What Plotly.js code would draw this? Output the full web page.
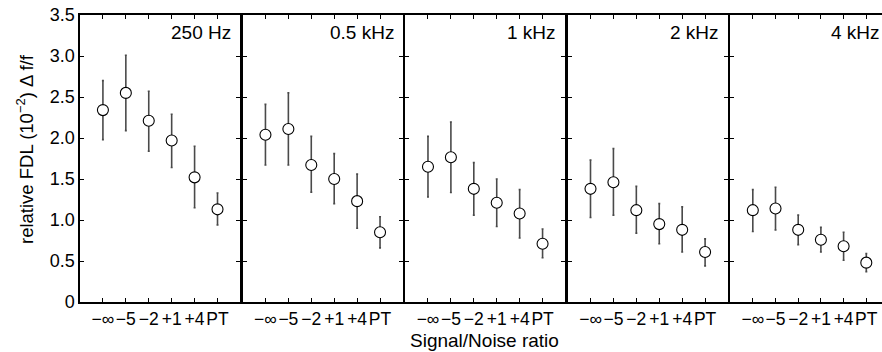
<!DOCTYPE html>
<html>
<head>
<meta charset="utf-8">
<script src="https://cdn.plot.ly/plotly-3.0.1.min.js"></script>
<style>
html, body { margin: 0; padding: 0; overflow: hidden; background: #fff; }
#chart { width: 892px; height: 352px; }
</style>
</head>
<body>
<div id="chart"></div>
<script>
// ---- data ----
const snrLabels = ['\u2212\u221e', '\u22125', '\u22122', '+1', '+4', 'PT'];
const panelNames = ['250 Hz', '0.5 kHz', '1 kHz', '2 kHz', '4 kHz'];

const fdl250  = [2.34, 2.55, 2.21, 1.97, 1.52, 1.13];
const plus250 = [0.36, 0.46, 0.36, 0.32, 0.38, 0.20];
const minus250= [0.36, 0.46, 0.37, 0.33, 0.37, 0.19];

const fdl500  = [2.04, 2.11, 1.67, 1.50, 1.23, 0.85];
const plus500 = [0.37, 0.44, 0.35, 0.31, 0.33, 0.19];
const minus500= [0.37, 0.44, 0.33, 0.30, 0.33, 0.19];

const fdl1k   = [1.65, 1.765, 1.38, 1.21, 1.08, 0.71];
const plus1k  = [0.37, 0.43, 0.32, 0.29, 0.29, 0.18];
const minus1k = [0.37, 0.43, 0.32, 0.29, 0.30, 0.17];

const fdl2k   = [1.38, 1.46, 1.12, 0.95, 0.88, 0.61];
const plus2k  = [0.35, 0.41, 0.29, 0.25, 0.28, 0.16];
const minus2k = [0.35, 0.40, 0.28, 0.24, 0.27, 0.17];

const fdl4k   = [1.12, 1.14, 0.88, 0.76, 0.68, 0.48];
const plus4k  = [0.25, 0.26, 0.18, 0.15, 0.17, 0.11];
const minus4k = [0.26, 0.26, 0.18, 0.15, 0.17, 0.11];

const yTickVals = [0, 0.5, 1, 1.5, 2, 2.5, 3, 3.5];
const yTickText = ['0', '0.5', '1.0', '1.5', '2.0', '2.5', '3.0', '3.5'];

const yTitle = 'relative FDL (10<sup>\u22122</sup>) \u0394 f/f';
const xTitle = 'Signal/Noise ratio';

// ---- build ----
const series = [
  [fdl250, plus250, minus250],
  [fdl500, plus500, minus500],
  [fdl1k, plus1k, minus1k],
  [fdl2k, plus2k, minus2k],
  [fdl4k, plus4k, minus4k]
];

const FONT = 'Liberation Sans, Arial, Helvetica, sans-serif';
const traces = [];
const layout = {
  width: 892, height: 352,
  margin: {l: 80, r: 3, t: 15, b: 50},
  paper_bgcolor: '#fff', plot_bgcolor: '#fff',
  showlegend: false,
  font: {family: FONT, color: '#000', size: 16},
  annotations: []
};

const pw = 0.1983, gap = 0.0026;
series.forEach((s, i) => {
  const n = i + 1;
  const xa = n === 1 ? 'x' : 'x' + n;
  const ya = n === 1 ? 'y' : 'y' + n;
  traces.push({
    type: 'scatter', mode: 'markers',
    x: snrLabels, y: s[0],
    xaxis: xa, yaxis: ya,
    marker: {symbol: 'circle', size: 11, color: '#fff', line: {color: '#000', width: 1.1}},
    error_y: {type: 'data', symmetric: false, array: s[1], arrayminus: s[2],
              color: '#4a4a4a', thickness: 1.6, width: 1}
  });
  const d0 = i * (pw + gap);
  const d1 = Math.min(1, d0 + pw);
  layout[n === 1 ? 'xaxis' : 'xaxis' + n] = {
    type: 'category', domain: [d0, d1], anchor: ya,
    range: [-1, 6], showgrid: false, zeroline: false,
    showline: true, linecolor: '#000', linewidth: 1.6, mirror: 'ticks',
    ticks: 'inside', ticklen: 4, tickwidth: 1, tickcolor: '#000',
    tickangle: 0, tickfont: {family: FONT, size: 17.5, color: '#000'},
    fixedrange: true
  };
  layout[n === 1 ? 'yaxis' : 'yaxis' + n] = {
    domain: [0, 1], anchor: xa, range: [0, 3.5],
    tickmode: 'array', tickvals: yTickVals, ticktext: yTickText,
    showticklabels: n === 1,
    showgrid: false, zeroline: false,
    showline: true, linecolor: '#000', linewidth: 1.6, mirror: 'ticks',
    ticks: 'inside', ticklen: 4, tickwidth: 1, tickcolor: '#000',
    tickfont: {family: FONT, size: 18, color: '#000'},
    fixedrange: true
  };
  layout.annotations.push({
    text: panelNames[i], xref: xa + ' domain', yref: ya + ' domain',
    x: 0.955, y: 0.94, xanchor: 'right', yanchor: 'middle', showarrow: false,
    font: {family: FONT, size: 19, color: '#000'}
  });
});

layout.annotations.push({
  text: yTitle, xref: 'paper', yref: 'paper', x: -0.068, y: 0.533,
  xanchor: 'center', yanchor: 'middle', textangle: -90, showarrow: false,
  font: {family: FONT, size: 18.5, color: '#000'}
});
layout.annotations.push({
  text: xTitle, xref: 'paper', yref: 'paper', x: 0.4997, y: -0.134,
  xanchor: 'center', yanchor: 'middle', showarrow: false,
  font: {family: FONT, size: 19, color: '#000'}
});

Plotly.newPlot('chart', traces, layout, {displayModeBar: false, staticPlot: true});
</script>
</body>
</html>
